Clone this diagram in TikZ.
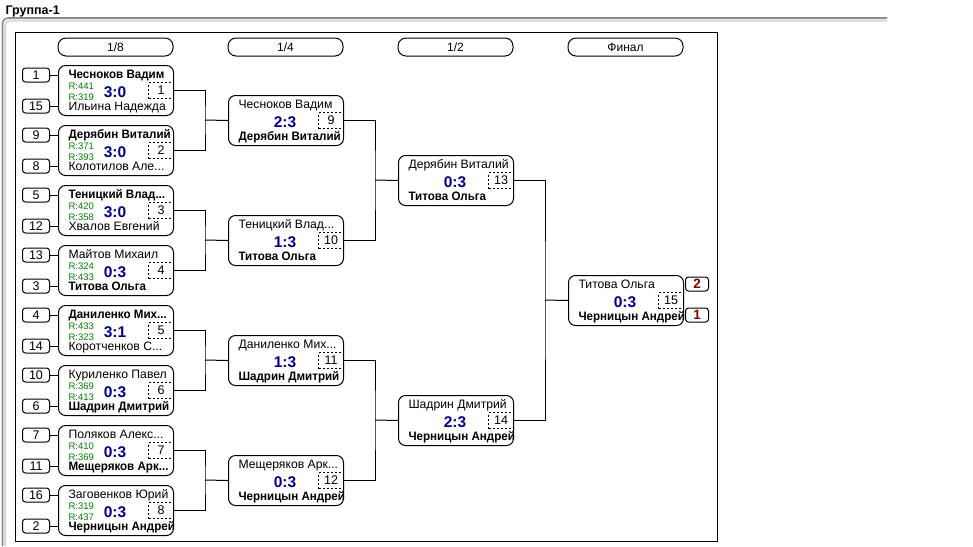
\documentclass[tikz,border=0pt]{standalone}
\usepackage{fontspec}
\setmainfont{Liberation Sans}
\newfontfamily\boldnarrow[FakeStretch=0.95]{Liberation Sans Bold}
\definecolor{scorec}{RGB}{0,0,140}
\definecolor{ratec}{RGB}{0,128,0}
\definecolor{medalc}{RGB}{128,0,0}
\newcommand\fs[1]{\fontsize{#1}{#1}\selectfont}
\tikzset{
  mbox/.style={draw, rounded corners=7pt, minimum width=115pt, minimum height=50pt, inner sep=0pt},
  hdr/.style={draw, rounded corners=8pt, minimum width=115pt, minimum height=18pt, inner sep=0pt, font=\fs{12}},
  seedbox/.style={draw, rounded corners=3pt, minimum width=27pt, minimum height=14pt, inner sep=0pt, font=\fs{12.5}},
  dbox/.style={draw, dash pattern=on 2pt off 2pt, minimum width=25pt, minimum height=16pt, inner sep=0pt, font=\fs{12.5}},
  nmR/.style={anchor=base west, inner sep=0pt, font=\fs{12.2}},
  nmB/.style={anchor=base west, inner sep=0pt, font=\boldnarrow\fs{12.2}},
  score/.style={anchor=base, inner sep=0pt, font=\bfseries\fs{15.5}, text=scorec},
  rate/.style={anchor=base west, inner sep=0pt, font=\fs{9.5}, text=ratec},
  medal/.style={draw, rounded corners=3pt, minimum width=23pt, minimum height=14pt, inner sep=0pt, font=\bfseries\fs{13.5}, text=medalc},
  link/.style={line width=1pt},
}
% id, left x, top y, top style, top name, bottom style, bottom name, score, number
\newcommand\game[9]{%
  \node[mbox, anchor=north west] (#1) at (#2,#3) {};
  \begin{scope}
    \clip (#1.north west) rectangle (#1.south east);
    \node[#4] (#1t) at ([xshift=10pt,yshift=-13.5pt]#1.north west) {#5};
    \node[#6] (#1b) at ([xshift=10pt,yshift=5.5pt]#1.south west) {#7};
  \end{scope}
  \node[score] (#1s) at ([xshift=-1pt,yshift=-32.5pt]#1.north) {#8};
  \node[dbox, anchor=east] (#1d) at (#1.east) {#9};
}
\newcommand\rates[3]{%
  \node[rate] (#1ra) at ([xshift=10pt,yshift=-24.5pt]#1.north west) {R:#2};
  \node[rate] (#1rb) at ([xshift=10pt,yshift=-35pt]#1.north west) {R:#3};
}
\newcommand\seeds[3]{%
  \node[seedbox, anchor=east] (#1sa) at ([xshift=-8pt,yshift=-10pt]#1.north west) {#2};
  \node[seedbox, anchor=east] (#1sb) at ([xshift=-8pt,yshift=10pt]#1.south west) {#3};
  \draw[link] (#1sa.east) -- (#1sa.east -| #1.west);
  \draw[link] (#1sb.east) -- (#1sb.east -| #1.west);
}
\begin{document}
\begin{tikzpicture}[x=1pt, y=-1pt, line width=1pt]
\useasboundingbox (0,0) rectangle (973,546);
% panel
\draw[black!45, line width=1.6pt, rounded corners=6pt] (2.5,546) -- (2.5,18) -- (887,18);
\draw[black!16, line width=2pt, rounded corners=5pt] (5,546) -- (5,20.5) -- (887,20.5);
\node[anchor=base west, inner sep=0pt, font=\bfseries\fs{12.5}] (title) at (5,14.5) {Группа-1};
% frame
\draw (15,32) rectangle (717,541);
% headers
\node[hdr] (h1) at (115.5,47) {1/8};
\node[hdr] (h2) at (285.5,47) {1/4};
\node[hdr] (h3) at (455.5,47) {1/2};
\node[hdr] (h4) at (625.5,47) {Финал};
% 1/8
\game{m1}{58}{65}{nmB}{Чесноков Вадим}{nmR}{Ильина Надежда}{3:0}{1}
\rates{m1}{441}{319}\seeds{m1}{1}{15}
\game{m2}{58}{125}{nmB}{Дерябин Виталий}{nmR}{Колотилов Але...}{3:0}{2}
\rates{m2}{371}{393}\seeds{m2}{9}{8}
\game{m3}{58}{185}{nmB}{Теницкий Влад...}{nmR}{Хвалов Евгений}{3:0}{3}
\rates{m3}{420}{358}\seeds{m3}{5}{12}
\game{m4}{58}{245}{nmR}{Майтов Михаил}{nmB}{Титова Ольга}{0:3}{4}
\rates{m4}{324}{433}\seeds{m4}{13}{3}
\game{m5}{58}{305}{nmB}{Даниленко Мих...}{nmR}{Коротченков С...}{3:1}{5}
\rates{m5}{433}{323}\seeds{m5}{4}{14}
\game{m6}{58}{365}{nmR}{Куриленко Павел}{nmB}{Шадрин Дмитрий}{0:3}{6}
\rates{m6}{369}{413}\seeds{m6}{10}{6}
\game{m7}{58}{425}{nmR}{Поляков Алекс...}{nmB}{Мещеряков Арк...}{0:3}{7}
\rates{m7}{410}{369}\seeds{m7}{7}{11}
\game{m8}{58}{485}{nmR}{Заговенков Юрий}{nmB}{Черницын Андрей}{0:3}{8}
\rates{m8}{319}{437}\seeds{m8}{16}{2}
% 1/4
\game{m9}{228}{95}{nmR}{Чесноков Вадим}{nmB}{Дерябин Виталий}{2:3}{9}
\game{m10}{228}{215}{nmR}{Теницкий Влад...}{nmB}{Титова Ольга}{1:3}{10}
\game{m11}{228}{335}{nmR}{Даниленко Мих...}{nmB}{Шадрин Дмитрий}{1:3}{11}
\game{m12}{228}{455}{nmR}{Мещеряков Арк...}{nmB}{Черницын Андрей}{0:3}{12}
% 1/2
\game{m13}{398}{155}{nmR}{Дерябин Виталий}{nmB}{Титова Ольга}{0:3}{13}
\game{m14}{398}{395}{nmR}{Шадрин Дмитрий}{nmB}{Черницын Андрей}{2:3}{14}
% final
\game{m15}{568}{275}{nmR}{Титова Ольга}{nmB}{Черницын Андрей}{0:3}{15}
\node[medal, anchor=west] (silver) at (685,284) {2};
\node[medal, anchor=west] (gold) at (685,315) {1};
% junctions
\coordinate (k1) at (205,120);
\coordinate (k2) at (205,240);
\coordinate (k3) at (205,360);
\coordinate (k4) at (205,480);
\coordinate (k5) at (375,180);
\coordinate (k6) at (375,420);
\coordinate (k7) at (545,300);
\draw[link] (m1.east) -| (k1) |- (m2.east); \draw[link] (k1) -- (m9.west);
\draw[link] (m3.east) -| (k2) |- (m4.east); \draw[link] (k2) -- (m10.west);
\draw[link] (m5.east) -| (k3) |- (m6.east); \draw[link] (k3) -- (m11.west);
\draw[link] (m7.east) -| (k4) |- (m8.east); \draw[link] (k4) -- (m12.west);
\draw[link] (m9.east) -| (k5) |- (m10.east); \draw[link] (k5) -- (m13.west);
\draw[link] (m11.east) -| (k6) |- (m12.east); \draw[link] (k6) -- (m14.west);
\draw[link] (m13.east) -| (k7) |- (m14.east); \draw[link] (k7) -- (m15.west);
\end{tikzpicture}
\end{document}
